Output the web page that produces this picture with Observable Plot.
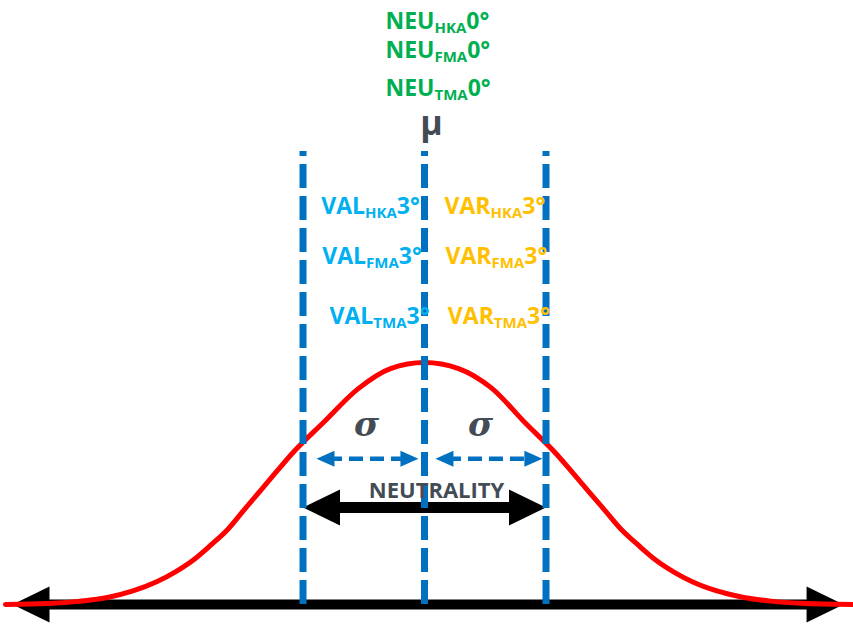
<!DOCTYPE html>
<html><head><meta charset="utf-8">
<script src="https://cdn.jsdelivr.net/npm/d3@7"></script>
<script src="https://cdn.jsdelivr.net/npm/@observablehq/plot@0.6"></script>
<style>
  html,body{margin:0;padding:0;background:#fff}
  #chart svg{display:block}
</style>
</head><body><div id="chart"></div>
<script>
// ---- data (x in σ units from the mean, y relative to the peak height) ----
const curveX = [-3.45, -3.1, -2.85, -2.6, -2.4, -2.2, -2.05, -1.9, -1.76, -1.62, -1.49, -1.35, -1.21, -1.08, -0.83, -0.55, -0.28, 0,
                0.28, 0.55, 0.83, 1.08, 1.21, 1.35, 1.49, 1.62, 1.76, 1.9, 2.05, 2.2, 2.4, 2.6, 2.85, 3.1, 3.53];
const curveY = [0.0, 0.004, 0.013, 0.030, 0.056, 0.095, 0.135, 0.185, 0.245, 0.31, 0.388, 0.471, 0.554, 0.629, 0.753, 0.89, 0.975, 1.0,
                0.975, 0.895, 0.75, 0.625, 0.55, 0.468, 0.386, 0.31, 0.245, 0.185, 0.135, 0.095, 0.057, 0.032, 0.014, 0.005, 0.0];
const sigmaLines = [-1, 0, 1];
const sigmaLineTop = 1.872;
const neuLabels = ["NEU_{HKA}0°", "NEU_{FMA}0°", "NEU_{TMA}0°"];
const valLabels = ["VAL_{HKA}3°", "VAL_{FMA}3°", "VAL_{TMA}3°"];
const varLabels = ["VAR_{HKA}3°", "VAR_{FMA}3°", "VAR_{TMA}3°"];
const meanLabel = "μ";
const sigmaLabel = "σ";
const rangeLabel = "NEUTRALITY";

// ---- tables built from the arrays ----
const curve = curveX.map((x, i) => ({x, y: curveY[i]}));
const neuRows = neuLabels.map((t, i) => ({t, x: -0.321, y: [2.38, 2.26, 2.101][i]}));
const valRows = valLabels.map((t, i) => ({t, x: [-0.85, -0.842, -0.782][i], y: [1.614, 1.408, 1.160][i]}));
const varRows = varLabels.map((t, i) => ({t, x: [0.165, 0.173, 0.192][i], y: [1.614, 1.408, 1.160][i]}));
const blackArrows = [{x1: -3.391, x2: 3.449, y: 0, w: 10}, {x1: -1, x2: 1, y: 0.401, w: 11}];
const sigmaArrows = [{x1: -0.889, x2: -0.05, y: 0.602}, {x1: 0.09, x2: 0.97, y: 0.602}];

function tip(dir, len, half) {
  return {draw(ctx) { ctx.moveTo(0, 0); ctx.lineTo(-dir * len, -half); ctx.lineTo(-dir * len, half); ctx.closePath(); }};
}

const blue = "#0070C0", gray = "#434C55";
const font = "'Open Sans', sans-serif";

const plot = Plot.plot({
  width: 853, height: 624, margin: 0,
  x: {domain: [-3.49, 3.531], axis: null},
  y: {domain: [-0.0826, 2.496], axis: null},
  style: {background: "#fff"},
  marks: [
    // black arrows
    Plot.ruleY(blackArrows, {x1: "x1", x2: "x2", y: "y", stroke: "black", strokeWidth: d => d.w, insetLeft: 20, insetRight: 20}),
    Plot.dot(blackArrows, {x: "x1", y: "y", symbol: tip(-1, 37, 18), fill: "black", stroke: "none"}),
    Plot.dot(blackArrows, {x: "x2", y: "y", symbol: tip(1, 37, 18), fill: "black", stroke: "none"}),
    // curve
    Plot.line(curve, {x: "x", y: "y", stroke: "#FF0000", strokeWidth: 5, curve: "monotone-x"}),
    // dashed σ lines
    Plot.ruleX(sigmaLines, {x: d => d, y1: () => 0, y2: () => sigmaLineTop, stroke: blue, strokeWidth: 7, strokeDasharray: "24,8"}),
    // σ dashed arrows
    Plot.ruleY(sigmaArrows, {x1: "x1", x2: "x2", y: "y", stroke: blue, strokeWidth: 4.5, strokeDasharray: "14,7", insetLeft: 12, insetRight: 12}),
    Plot.dot(sigmaArrows, {x: "x1", y: "y", symbol: tip(-1, 18, 8), fill: blue, stroke: "none"}),
    Plot.dot(sigmaArrows, {x: "x2", y: "y", symbol: tip(1, 18, 8), fill: blue, stroke: "none"}),
    // labels
    Plot.text(neuRows, {x: "x", y: "y", text: "t", textAnchor: "start", lineAnchor: "bottom", fill: "#00B050", fontSize: 23, fontWeight: "bold", fontFamily: font}),
    Plot.text(valRows, {x: "x", y: "y", text: "t", textAnchor: "start", lineAnchor: "bottom", fill: "#00B0F0", fontSize: 23, fontWeight: "bold", fontFamily: font}),
    Plot.text(varRows, {x: "x", y: "y", text: "t", textAnchor: "start", lineAnchor: "bottom", fill: "#FFC000", fontSize: 23, fontWeight: "bold", fontFamily: font}),
    Plot.text([meanLabel], {x: () => 0.058, y: () => 1.94, text: d => d, lineAnchor: "bottom", fill: gray, fontSize: 34, fontWeight: "bold", fontFamily: font}),
    Plot.text([sigmaLabel, sigmaLabel], {x: (d, i) => [-0.477, 0.461][i], y: () => 0.698, text: d => d, lineAnchor: "bottom", fill: gray, fontSize: 34, fontWeight: "bold", fontStyle: "italic", fontFamily: "'DejaVu Serif', serif"}),
    Plot.text([rangeLabel], {x: () => 0.099, y: () => 0.441, text: d => d, lineAnchor: "bottom", fill: gray, fontSize: 22, fontWeight: "bold", fontFamily: font})
  ]
});

// subscripts: "ABC_{sub}rest" -> tspans
plot.querySelectorAll("text").forEach(el => {
  const m = /^(.*)_\{(.*)\}(.*)$/.exec(el.textContent);
  if (!m) return;
  el.textContent = "";
  const ns = "http://www.w3.org/2000/svg";
  const a = document.createElementNS(ns, "tspan"); a.textContent = m[1];
  const b = document.createElementNS(ns, "tspan"); b.textContent = m[2];
  b.setAttribute("font-size", "15"); b.setAttribute("dy", "4");
  const c = document.createElementNS(ns, "tspan"); c.textContent = m[3];
  c.setAttribute("dy", "-4");
  el.append(a, b, c);
});

document.getElementById("chart").append(plot);
</script>
</body></html>
